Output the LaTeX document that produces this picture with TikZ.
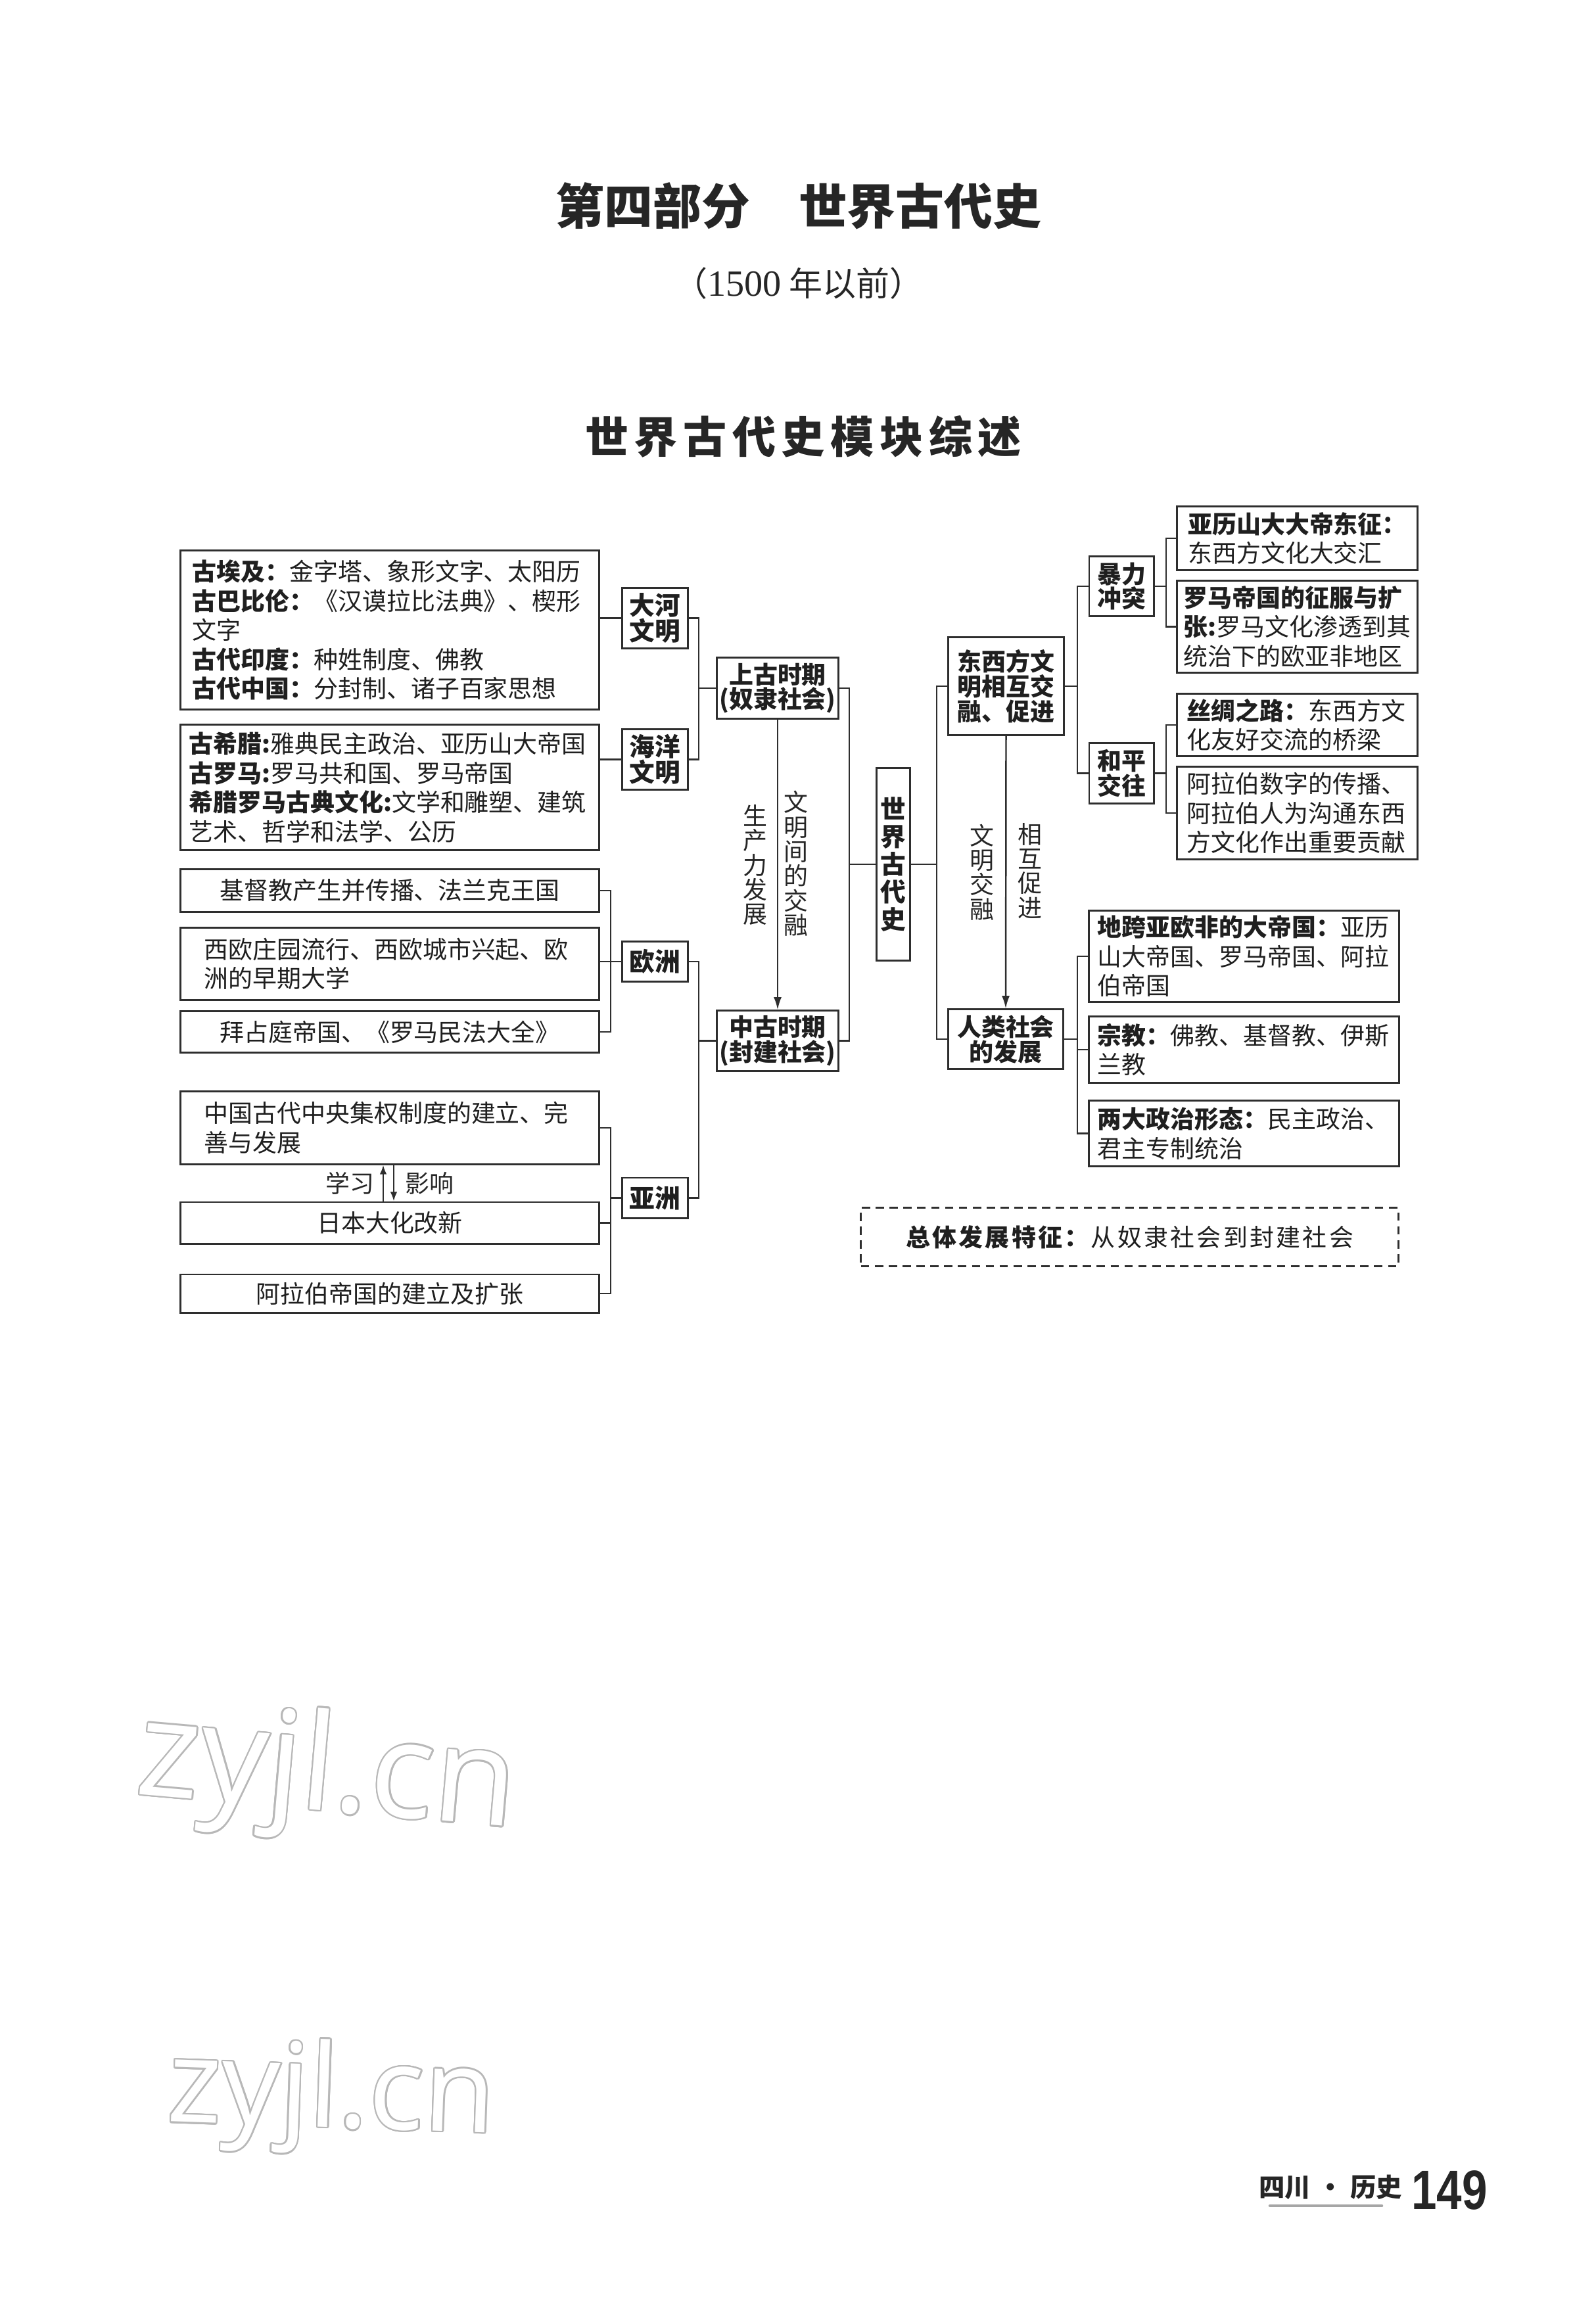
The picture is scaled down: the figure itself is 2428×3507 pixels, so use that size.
\documentclass[tikz,border=0pt]{standalone}
\usepackage{fontspec}
\usepackage{graphicx}
\usepackage[copies]{contour}
\setmainfont{Noto Sans CJK SC}
\newfontfamily\wmfont{Open Sans}
\newfontfamily\numfont{Liberation Sans}
\newfontfamily\serifnum{Liberation Serif}
\usetikzlibrary{arrows.meta}
\contourlength{0.7pt}
\newcommand\fbody{\fontsize{10.5pt}{12.66pt}\selectfont}
\newcommand\fhead{\bfseries\fontsize{10.5pt}{10.8pt}\selectfont}
\tikzset{
  base/.style={draw=black!82, line width=0.85pt, inner sep=0pt, text=black!88},
  leaf/.style={base, align=left, font=\fbody},
  cleaf/.style={base, align=center, font=\fbody},
  lab/.style={base, align=center, font=\fhead},
  vlab/.style={inner sep=0pt, align=center, text=black!85, font=\fontsize{10.5pt}{10.6pt}\selectfont},
  plain/.style={inner sep=0pt, text=black!85},
  conn/.style={draw=black!82, line width=0.7pt},
  arr/.style={conn, -{Latex[length=5.5pt,width=3.4pt]}},
  arrs/.style={conn, -{Latex[length=4pt,width=3pt]}},
  dashbox/.style={draw=black!82, line width=0.85pt, dash pattern=on 3.6pt off 2.4pt, inner sep=0pt, text=black!88}
}
\begin{document}
\begin{tikzpicture}[x=0.01cm,y=-0.01cm]
\path[use as bounding box, fill=white] (0,0) rectangle (2428,3507);

% ---------- titles ----------
\node[plain, font=\bfseries\fontsize{21pt}{21pt}\selectfont] (t1) at (1215,313) {第四部分　世界古代史};
\node[plain, font=\fontsize{14.5pt}{15pt}\selectfont] (t2) at (1215,431) {（{\serifnum\fontsize{16pt}{16pt}\selectfont 1500} 年以前）};
\node[plain, font=\bfseries\fontsize{18.8pt}{19pt}\selectfont\addfontfeature{LetterSpace=13}] (t3) at (1222,664) {世界古代史模块综述};

% ---------- left leaves ----------
\node[leaf, minimum width=6.36cm, minimum height=2.41cm, text width=6.0cm] (egypt) at (593,958.5)
  {\textbf{古埃及：}金字塔、象形文字、太阳历\\\textbf{古巴比伦：}《汉谟拉比法典》、楔形\\文字\\\textbf{古代印度：}种姓制度、佛教\\\textbf{古代中国：}分封制、诸子百家思想};
\node[leaf, minimum width=6.36cm, minimum height=1.90cm, text width=6.1cm] (greece) at (593,1198)
  {\textbf{古希腊:}雅典民主政治、亚历山大帝国\\\textbf{古罗马:}罗马共和国、罗马帝国\\\textbf{希腊罗马古典文化:}文学和雕塑、建筑\\艺术、哲学和法学、公历};
\node[cleaf, minimum width=6.36cm, minimum height=0.64cm] (jidu) at (593,1355) {基督教产生并传播、法兰克王国};
\node[leaf, minimum width=6.36cm, minimum height=1.09cm, text width=5.64cm] (xiou) at (593,1466.5)
  {西欧庄园流行、西欧城市兴起、欧\\洲的早期大学};
\node[cleaf, minimum width=6.36cm, minimum height=0.62cm] (baizhan) at (593,1570) {拜占庭帝国、《罗马民法大全》};
\node[leaf, minimum width=6.36cm, minimum height=1.10cm, text width=5.64cm] (zhongguo) at (593,1716)
  {中国古代中央集权制度的建立、完\\善与发展};
\node[cleaf, minimum width=6.36cm, minimum height=0.63cm] (riben) at (593,1860.5) {日本大化改新};
\node[cleaf, minimum width=6.36cm, minimum height=0.58cm] (alabo) at (593,1968) {阿拉伯帝国的建立及扩张};

% ---------- left labels ----------
\node[lab, minimum width=0.99cm, minimum height=0.91cm, font=\bfseries\fontsize{11pt}{11.2pt}\selectfont] (dahe) at (996.5,940.5) {大河\\文明};
\node[lab, minimum width=0.99cm, minimum height=0.91cm, font=\bfseries\fontsize{11pt}{11.2pt}\selectfont] (haiyang) at (996.5,1155.5) {海洋\\文明};
\node[lab, minimum width=0.99cm, minimum height=0.60cm, font=\bfseries\fontsize{11pt}{11.2pt}\selectfont] (ouzhou) at (996.5,1463) {欧洲};
\node[lab, minimum width=0.99cm, minimum height=0.61cm, font=\bfseries\fontsize{11pt}{11.2pt}\selectfont] (yazhou) at (996.5,1822.5) {亚洲};
\node[lab, minimum width=1.84cm, minimum height=0.92cm] (shanggu) at (1183,1047) {上古时期\\(奴隶社会)};
\node[lab, minimum width=1.84cm, minimum height=0.91cm] (zhonggu) at (1183,1583.5) {中古时期\\(封建社会)};
\node[lab, minimum width=0.51cm, minimum height=2.92cm, font=\bfseries\fontsize{11pt}{12pt}\selectfont] (shijie) at (1358.5,1315) {世\\界\\古\\代\\史};

% ---------- right labels ----------
\node[lab, minimum width=1.75cm, minimum height=1.48cm] (dongxi) at (1530.5,1044) {东西方文\\明相互交\\融、促进};
\node[lab, minimum width=1.74cm, minimum height=0.90cm] (renlei) at (1530,1581) {人类社会\\的发展};
\node[lab, minimum width=0.98cm, minimum height=0.90cm] (baoli) at (1706,892) {暴力\\冲突};
\node[lab, minimum width=0.98cm, minimum height=0.91cm] (heping) at (1706,1176.5) {和平\\交往};

% ---------- right leaves ----------
\node[leaf, minimum width=3.65cm, minimum height=0.96cm, text width=3.32cm] (yali) at (1973.5,819)
  {\textbf{亚历山大大帝东征：}\\东西方文化大交汇};
\node[leaf, minimum width=3.65cm, minimum height=1.39cm, text width=3.45cm] (luoma) at (1973.5,953.5)
  {\textbf{罗马帝国的征服与扩}\\\textbf{张:}罗马文化渗透到其\\统治下的欧亚非地区};
\node[leaf, minimum width=3.65cm, minimum height=0.94cm, text width=3.35cm] (sichou) at (1973.5,1103)
  {\textbf{丝绸之路：}东西方文\\化友好交流的桥梁};
\node[leaf, minimum width=3.65cm, minimum height=1.40cm, text width=3.35cm] (alashuzi) at (1973.5,1237)
  {阿拉伯数字的传播、\\阿拉伯人为沟通东西\\方文化作出重要贡献};
\node[leaf, minimum width=4.71cm, minimum height=1.38cm, text width=4.45cm] (dikua) at (1892.5,1455)
  {\textbf{地跨亚欧非的大帝国：}亚历\\山大帝国、罗马帝国、阿拉\\伯帝国};
\node[leaf, minimum width=4.71cm, minimum height=1.00cm, text width=4.45cm] (zongjiao) at (1892.5,1597)
  {\textbf{宗教：}佛教、基督教、伊斯\\兰教};
\node[leaf, minimum width=4.71cm, minimum height=0.99cm, text width=4.45cm] (liangda) at (1892.5,1724.5)
  {\textbf{两大政治形态：}民主政治、\\君主专制统治};
\node[dashbox, minimum width=8.17cm, minimum height=0.88cm, font=\fontsize{10.5pt}{12pt}\selectfont\addfontfeature{LetterSpace=9}] (zongti) at (1718.5,1882)
  {\textbf{总体发展特征：}从奴隶社会到封建社会};

% ---------- vertical labels ----------
\node[vlab] (lsc) at (1149,1316) {生\\产\\力\\发\\展};
\node[vlab] (lwm) at (1211,1314) {文\\明\\间\\的\\交\\融};
\node[vlab] (ljr) at (1494,1327) {文\\明\\交\\融};
\node[vlab] (lxh) at (1567,1325) {相\\互\\促\\进};
\node[plain, font=\fbody] (lxx) at (532,1800) {学习};
\node[plain, font=\fbody] (lyx) at (653,1800) {影响};

% ---------- bracket coordinates ----------
\coordinate (bx0) at (929,0);
\coordinate (bx1) at (1063,0);
\coordinate (bx2) at (1292,0);
\coordinate (bx3) at (1425,0);
\coordinate (bx4) at (1639,0);
\coordinate (bx5) at (1774,0);
\coordinate (ax1) at (583,0);
\coordinate (ax2) at (599,0);

% ---------- connectors left ----------
\draw[conn] (egypt.east |- dahe.west) -- (dahe.west);
\draw[conn] (greece.east |- haiyang.west) -- (haiyang.west);
\draw[conn] (dahe.east) -- (dahe.east -| bx1) -- (haiyang.east -| bx1) -- (haiyang.east);
\draw[conn] (shanggu.west -| bx1) -- (shanggu.west);
\draw[conn] (jidu.east) -- (jidu.east -| bx0) -- (baizhan.east -| bx0) -- (baizhan.east);
\draw[conn] (ouzhou.west -| xiou.east) -- (ouzhou.west);
\draw[conn] (ouzhou.east) -- (ouzhou.east -| bx1) -- (yazhou.east -| bx1) -- (yazhou.east);
\draw[conn] (zhonggu.west -| bx1) -- (zhonggu.west);
\draw[conn] (zhongguo.east) -- (zhongguo.east -| bx0) -- (alabo.east -| bx0) -- (alabo.east);
\draw[conn] (riben.east) -- (riben.east -| bx0);
\draw[conn] (yazhou.west -| bx0) -- (yazhou.west);
\draw[arrs] (riben.north -| ax1) -- (zhongguo.south -| ax1);
\draw[arrs] (zhongguo.south -| ax2) -- (riben.north -| ax2);

% ---------- connectors centre ----------
\draw[conn] (shanggu.east) -- (shanggu.east -| bx2) -- (zhonggu.east -| bx2) -- (zhonggu.east);
\draw[conn] (shijie.west -| bx2) -- (shijie.west);
\draw[arr] (shanggu.south) -- (zhonggu.north);
\draw[conn] (shijie.east) -- (shijie.east -| bx3);
\draw[conn] (dongxi.west) -- (dongxi.west -| bx3) -- (renlei.west -| bx3) -- (renlei.west);
\draw[arr] (dongxi.south) -- (renlei.north);

% ---------- connectors right ----------
\draw[conn] (dongxi.east) -- (dongxi.east -| bx4);
\draw[conn] (baoli.west) -- (baoli.west -| bx4) -- (heping.west -| bx4) -- (heping.west);
\draw[conn] (baoli.east) -- (baoli.east -| bx5);
\draw[conn] (yali.west) -- (yali.west -| bx5) -- (luoma.west -| bx5) -- (luoma.west);
\draw[conn] (heping.east) -- (heping.east -| bx5);
\draw[conn] (sichou.west) -- (sichou.west -| bx5) -- (alashuzi.west -| bx5) -- (alashuzi.west);
\draw[conn] (renlei.east) -- (renlei.east -| bx4);
\draw[conn] (dikua.west) -- (dikua.west -| bx4) -- (liangda.west -| bx4) -- (liangda.west);
\draw[conn] (zongjiao.west -| bx4) -- (zongjiao.west);

% ---------- watermarks ----------
\node[inner sep=0pt, text=white, rotate=-5, font=\wmfont\fontsize{58pt}{58pt}\selectfont] (wm1) at (497,2703) {\contour{black!28}{zyjl.cn}};
\node[inner sep=0pt, text=white, rotate=-2, font=\wmfont\fontsize{50pt}{50pt}\selectfont] (wm2) at (504,3192) {\contour{black!28}{zyjl.cn}};

% ---------- footer ----------
\node[plain, font=\bfseries\fontsize{11.2pt}{12pt}\selectfont] (ft) at (2024,3328) {四川\hspace{3pt}·\hspace{3pt}历史};
\draw[black!35, line width=1.3pt, line cap=round] (1932,3356) -- (2102,3356);
\node[plain, font=\numfont\bfseries\fontsize{24pt}{24pt}\selectfont] (pg) at (2205,3332) {\scalebox{0.82}[1]{149}};
\end{tikzpicture}
\end{document}
